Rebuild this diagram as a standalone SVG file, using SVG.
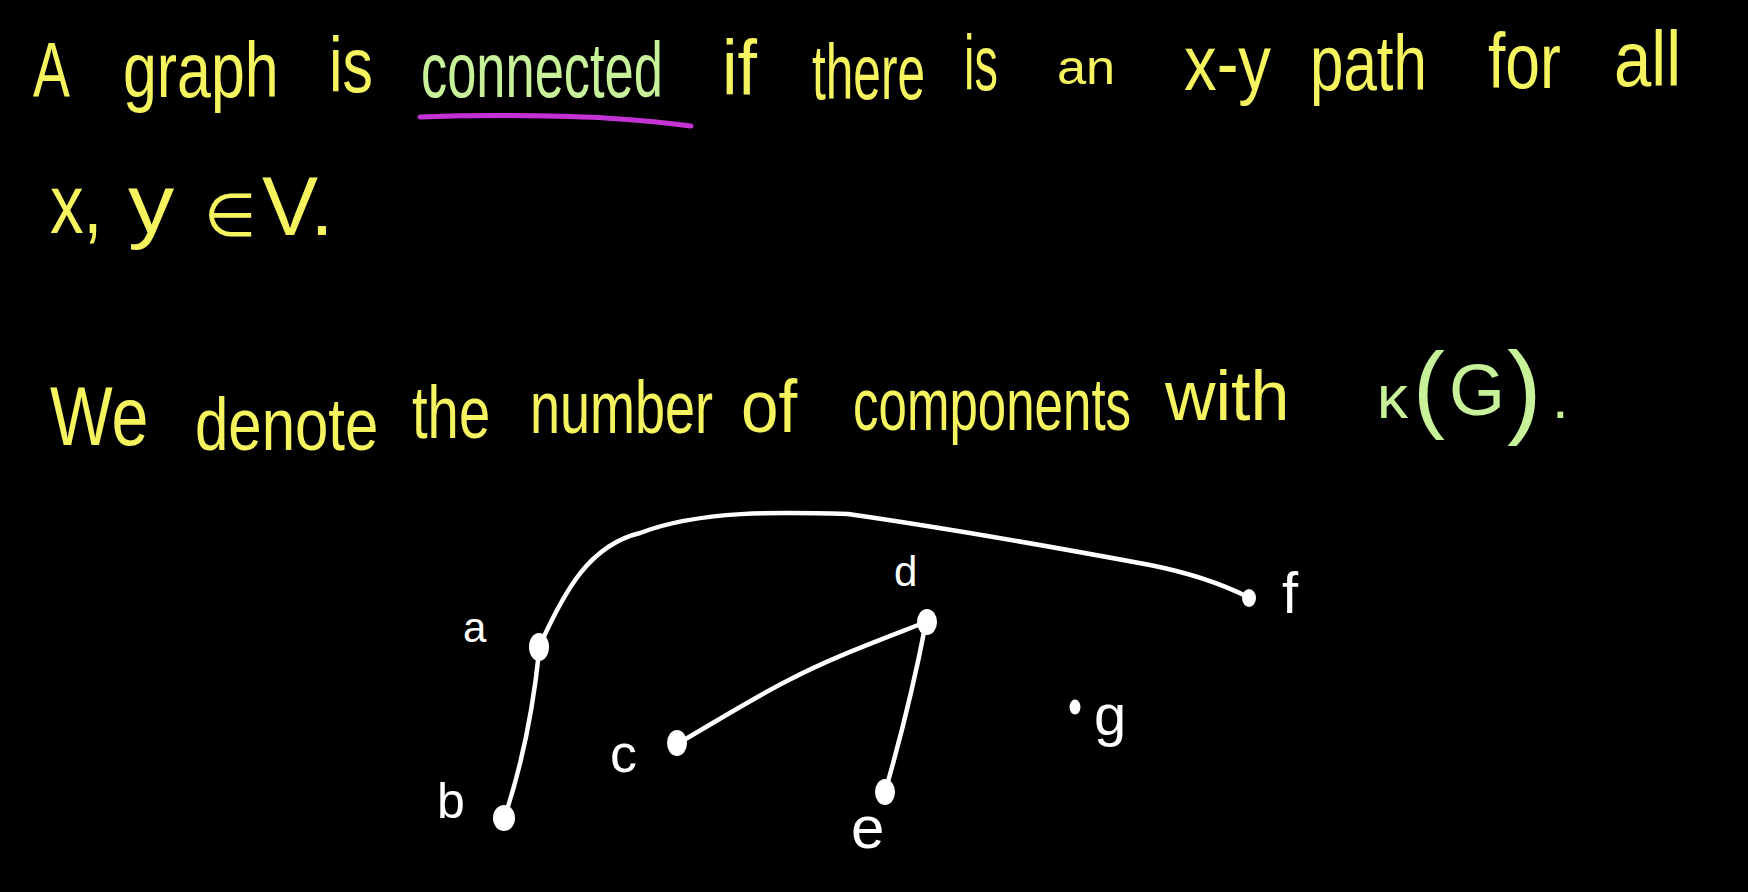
<svg xmlns="http://www.w3.org/2000/svg" width="1748" height="892" viewBox="0 0 1748 892">
<style>
.t{font-family:"Liberation Sans",Arial,sans-serif;fill:#f6f45e}
.g{fill:#c8f29a}
.lbl{font-family:"Liberation Sans","DejaVu Sans",sans-serif;fill:#ffffff}
.edge{fill:none;stroke:#ffffff;stroke-width:4.5;stroke-linecap:round;stroke-linejoin:round}
.dot{fill:#ffffff}
</style>
<rect width="1748" height="892" fill="#000000"/>
<g id="line1" font-size="78">
<text class="t" transform="translate(33,97) scale(0.71,1)">A</text>
<text class="t" transform="translate(123,97) scale(0.78,1)">graph</text>
<text class="t" transform="translate(329,92) scale(0.78,1)">is</text>
<text class="t g" transform="translate(421,97) scale(0.672,1)">connected</text>
<text class="t" transform="translate(722,95) scale(0.9,1)">if</text>
<text class="t" transform="translate(812,99) scale(0.636,1)">there</text>
<text class="t" transform="translate(964,90) scale(0.6,1)">is</text>
<text class="t" font-size="48" transform="translate(1057,84) scale(1.09,1)">an</text>
<text class="t" transform="translate(1184,90) scale(0.837,1)">x-y</text>
<text class="t" transform="translate(1310,90) scale(0.771,1)">path</text>
<text class="t" transform="translate(1488,88) scale(0.8,1)">for</text>
<text class="t" transform="translate(1614,86) scale(0.86,1)">all</text>
<path d="M420,117 C500,114 580,116 620,119 C650,121 675,124 691,126" fill="none" stroke="#c434d4" stroke-width="5" stroke-linecap="round"/>
</g>
<g id="line2" font-size="84">
<text class="t" transform="translate(50,233) scale(0.8,1)">x,</text>
<text class="t" transform="translate(128,233) scale(1.1,1)">y</text>
<text class="t" font-size="60" x="204" y="236">∈</text>
<text class="t" transform="translate(262,235) scale(1.0,1)">V.</text>
</g>
<g id="line3" font-size="74">
<text class="t" font-size="84" transform="translate(50,445) scale(0.79,1)">We</text>
<text class="t" transform="translate(195,450) scale(0.81,1)">denote</text>
<text class="t" transform="translate(412,438) scale(0.76,1)">the</text>
<text class="t" transform="translate(530,433) scale(0.73,1)">number</text>
<text class="t" transform="translate(741,432) scale(0.91,1)">of</text>
<text class="t" transform="translate(853,430) scale(0.69,1)">components</text>
<text class="t" font-size="70" transform="translate(1165,420) scale(1.0,1)">with</text>
<text class="t g" font-size="62" x="1377" y="418">κ<tspan x="1413" y="420" font-size="96">(</tspan><tspan x="1449" y="415" font-size="72">G</tspan><tspan x="1507" y="424" font-size="104">)</tspan><tspan x="1552" y="418" font-size="60">.</tspan></text>
</g>
<g id="connectors">
<path class="edge" d="M541,643 C565,590 590,545 640,533 C700,510 780,512 848,514 C960,530 1080,552 1150,565 C1195,574 1230,588 1248,597"/>
<path class="edge" d="M539,652 Q530,740 505,816"/>
<path class="edge" d="M677,744 C710,725 750,700 785,682 C830,658 880,640 926,622"/>
<path class="edge" d="M926,622 C915,680 900,740 885,792"/>
</g>
<g id="node-a"><ellipse class="dot" cx="539" cy="647" rx="10" ry="14"/><text class="lbl" x="463" y="642" font-size="42">a</text></g>
<g id="node-b"><ellipse class="dot" cx="504" cy="818" rx="11" ry="13"/><text class="lbl" x="437" y="818" font-size="50">b</text></g>
<g id="node-c"><ellipse class="dot" cx="677" cy="743" rx="10" ry="13"/><text class="lbl" x="610" y="772" font-size="54">c</text></g>
<g id="node-d"><ellipse class="dot" cx="927" cy="622" rx="10" ry="13"/><text class="lbl" x="894" y="586" font-size="42">d</text></g>
<g id="node-e"><ellipse class="dot" cx="885" cy="792" rx="10" ry="13"/><text class="lbl" x="851" y="848" font-size="60">e</text></g>
<g id="node-f"><ellipse class="dot" cx="1249" cy="598" rx="7" ry="9"/><text class="lbl" x="1282" y="613" font-size="58">f</text></g>
<g id="node-g"><ellipse class="dot" cx="1075" cy="707" rx="5.5" ry="7.5"/><text class="lbl" x="1094" y="735" font-size="58">g</text></g>
</svg>
